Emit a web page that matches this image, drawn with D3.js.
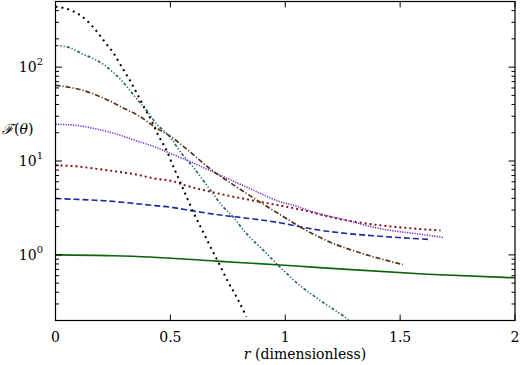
<!DOCTYPE html>
<html>
<head>
<meta charset="utf-8">
<script src="https://cdn.jsdelivr.net/npm/d3@7"></script>
<style>
  body { margin: 0; background: #fff; }
  svg text { font-family: "DejaVu Serif", "Liberation Serif", serif; }
</style>
</head>
<body>
<div id="chart"></div>
<script>
// drawing space
const width = 521,
  height = 365,
  margin = { top: 1.5, bottom: 44.5, left: 55.5, right: 6 };

// tick values
const xTicks = [0, 0.5, 1, 1.5, 2];
const yDecades = [1, 10, 100];
const yDecadeExp = ["0", "1", "2"];

// series: [r, F]
const greenSolid = [[0, 1.0], [0.25, 0.98], [0.41, 0.95], [0.7, 0.857], [0.98, 0.78], [1.05, 0.76], [1.27, 0.70], [1.62, 0.623], [2.0, 0.57]];
const blueDashed = [[0, 3.98], [0.085, 3.91], [0.172, 3.82], [0.259, 3.7], [0.346, 3.52], [0.433, 3.35], [0.512, 3.19], [0.556, 3.06], [0.701, 2.69], [0.846, 2.44], [0.976, 2.2], [1.121, 1.88], [1.266, 1.69], [1.411, 1.58], [1.628, 1.46]];
const redDotted = [[0, 9.0], [0.085, 8.8], [0.172, 8.3], [0.259, 7.77], [0.346, 7.22], [0.433, 6.5], [0.512, 6.08], [0.556, 5.6], [0.701, 4.55], [0.846, 3.85], [1.049, 3.1], [1.266, 2.33], [1.411, 2.07], [1.62, 1.86], [1.676, 1.82]];
const purpleDotted = [[0, 24.6], [0.085, 24], [0.172, 22.1], [0.259, 19.6], [0.346, 16.6], [0.433, 14.1], [0.52, 11.5], [0.556, 10.6], [0.701, 7.35], [0.846, 5.09], [0.976, 3.7], [1.049, 3.3], [1.121, 2.87], [1.266, 2.34], [1.411, 1.91], [1.62, 1.62], [1.69, 1.53]];
const brownDashDot = [[0, 63.9], [0.07, 60.4], [0.143, 54.2], [0.215, 46.1], [0.288, 37.5], [0.36, 30.6], [0.433, 23], [0.505, 18], [0.577, 13], [0.672, 8.3], [0.788, 5.3], [0.889, 3.66], [0.976, 2.7], [1.077, 1.91], [1.193, 1.375], [1.338, 1.03], [1.512, 0.79]];
const tealDashDot = [[0, 170], [0.063, 161], [0.114, 139], [0.165, 123], [0.208, 107], [0.251, 88], [0.288, 72], [0.324, 56.5], [0.36, 44], [0.397, 34.6], [0.433, 26], [0.498, 18], [0.549, 12], [0.599, 8.63], [0.664, 5.29], [0.73, 3.24], [0.766, 2.64], [0.831, 1.69], [0.911, 1.08], [0.983, 0.717], [1.056, 0.49], [1.15, 0.33], [1.237, 0.238], [1.275, 0.205]];
const blackDotted = [[0, 441], [0.07, 401], [0.136, 314], [0.179, 241], [0.215, 185], [0.254, 139], [0.289, 100], [0.324, 72], [0.359, 50], [0.389, 36], [0.418, 27], [0.447, 18.8], [0.476, 14.1], [0.52, 7.96], [0.549, 5.51], [0.577, 3.82], [0.599, 2.87], [0.628, 2.07], [0.664, 1.37], [0.715, 0.777], [0.751, 0.516], [0.788, 0.357], [0.831, 0.219]];

const series = [
  { data: greenSolid, color: "#0a640a", dash: null, w: 1.6 },
  { data: blueDashed, color: "#1c2a9e", dash: "6,3", w: 1.6 },
  { data: redDotted, color: "#8a0a0a", dash: "2,3", w: 1.9 },
  { data: purpleDotted, color: "#6a30c8", dash: "1.2,1.3", w: 1.6 },
  { data: brownDashDot, color: "#5a3418", dash: "5,2,1.2,2", w: 1.7 },
  { data: tealDashDot, color: "#266478", dash: "3,2,1.2,2,1.2,2", w: 1.7 },
  { data: blackDotted, color: "#000", dash: "2,4", w: 2 }
];

const xScale = d3.scaleLinear()
  .domain([0, 2])
  .range([margin.left, width - margin.right]);

const yScale = d3.scaleLog()
  .domain([0.2, 500])
  .range([height - margin.bottom, margin.top]);

const svg = d3.select("#chart")
  .append("svg")
  .attr("width", width)
  .attr("height", height);

svg.append("clipPath")
  .attr("id", "clip")
  .append("rect")
  .attr("x", margin.left)
  .attr("y", margin.top)
  .attr("width", width - margin.right - margin.left)
  .attr("height", height - margin.bottom - margin.top);

const line = d3.line()
  .x(d => xScale(d[0]))
  .y(d => yScale(d[1]))
  .curve(d3.curveMonotoneX);

svg.append("g")
  .attr("clip-path", "url(#clip)")
  .selectAll("path")
  .data(series)
  .join("path")
  .attr("d", d => line(d.data))
  .attr("fill", "none")
  .attr("stroke", d => d.color)
  .attr("stroke-width", d => d.w)
  .attr("stroke-dasharray", d => d.dash);

// inward ticks on all four sides
const x0 = margin.left, x1 = width - margin.right;
const y0 = height - margin.bottom, y1 = margin.top;
const ticks = svg.append("g").attr("stroke", "#000").attr("stroke-width", 1);

xTicks.forEach(t => {
  const x = xScale(t);
  ticks.append("line").attr("x1", x).attr("x2", x).attr("y1", y0).attr("y2", y0 - 6);
  ticks.append("line").attr("x1", x).attr("x2", x).attr("y1", y1).attr("y2", y1 + 6);
});

yScale.ticks().forEach(t => {
  const y = yScale(t);
  const major = yDecades.includes(t);
  const len = major ? 6.5 : 3.5;
  ticks.append("line").attr("x1", x0).attr("x2", x0 + len).attr("y1", y).attr("y2", y);
  ticks.append("line").attr("x1", x1).attr("x2", x1 - len).attr("y1", y).attr("y2", y);
});

svg.append("rect")
  .attr("x", x0).attr("y", y1)
  .attr("width", x1 - x0).attr("height", y0 - y1)
  .attr("fill", "none")
  .attr("stroke", "#000")
  .attr("stroke-width", 1.2);

// tick labels
svg.append("g")
  .selectAll("text")
  .data(xTicks)
  .join("text")
  .attr("x", d => xScale(d))
  .attr("y", y0 + 21.5)
  .attr("text-anchor", "middle")
  .attr("font-size", 14)
  .text(d => d);

const yLab = svg.append("g")
  .selectAll("text")
  .data(yDecades)
  .join("text")
  .attr("x", 43)
  .attr("y", d => yScale(d) + 5)
  .attr("text-anchor", "end")
  .attr("font-size", 14);
yLab.append("tspan").text("10");
yLab.append("tspan")
  .attr("dy", -7)
  .attr("font-size", 10)
  .text((d, i) => yDecadeExp[i]);

// axis titles
const xt = svg.append("text")
  .attr("x", 305)
  .attr("y", 359)
  .attr("text-anchor", "middle")
  .attr("font-size", 14);
xt.append("tspan").attr("font-style", "italic").text("r");
xt.append("tspan").text(" (dimensionless)");

const yt = svg.append("text")
  .attr("x", 2)
  .attr("y", 134)
  .attr("font-size", 14);
yt.append("tspan").attr("font-style", "italic").text("ℱ");
yt.append("tspan").text("(");
yt.append("tspan").attr("font-style", "italic").text("θ");
yt.append("tspan").text(")");
</script>
</body>
</html>
